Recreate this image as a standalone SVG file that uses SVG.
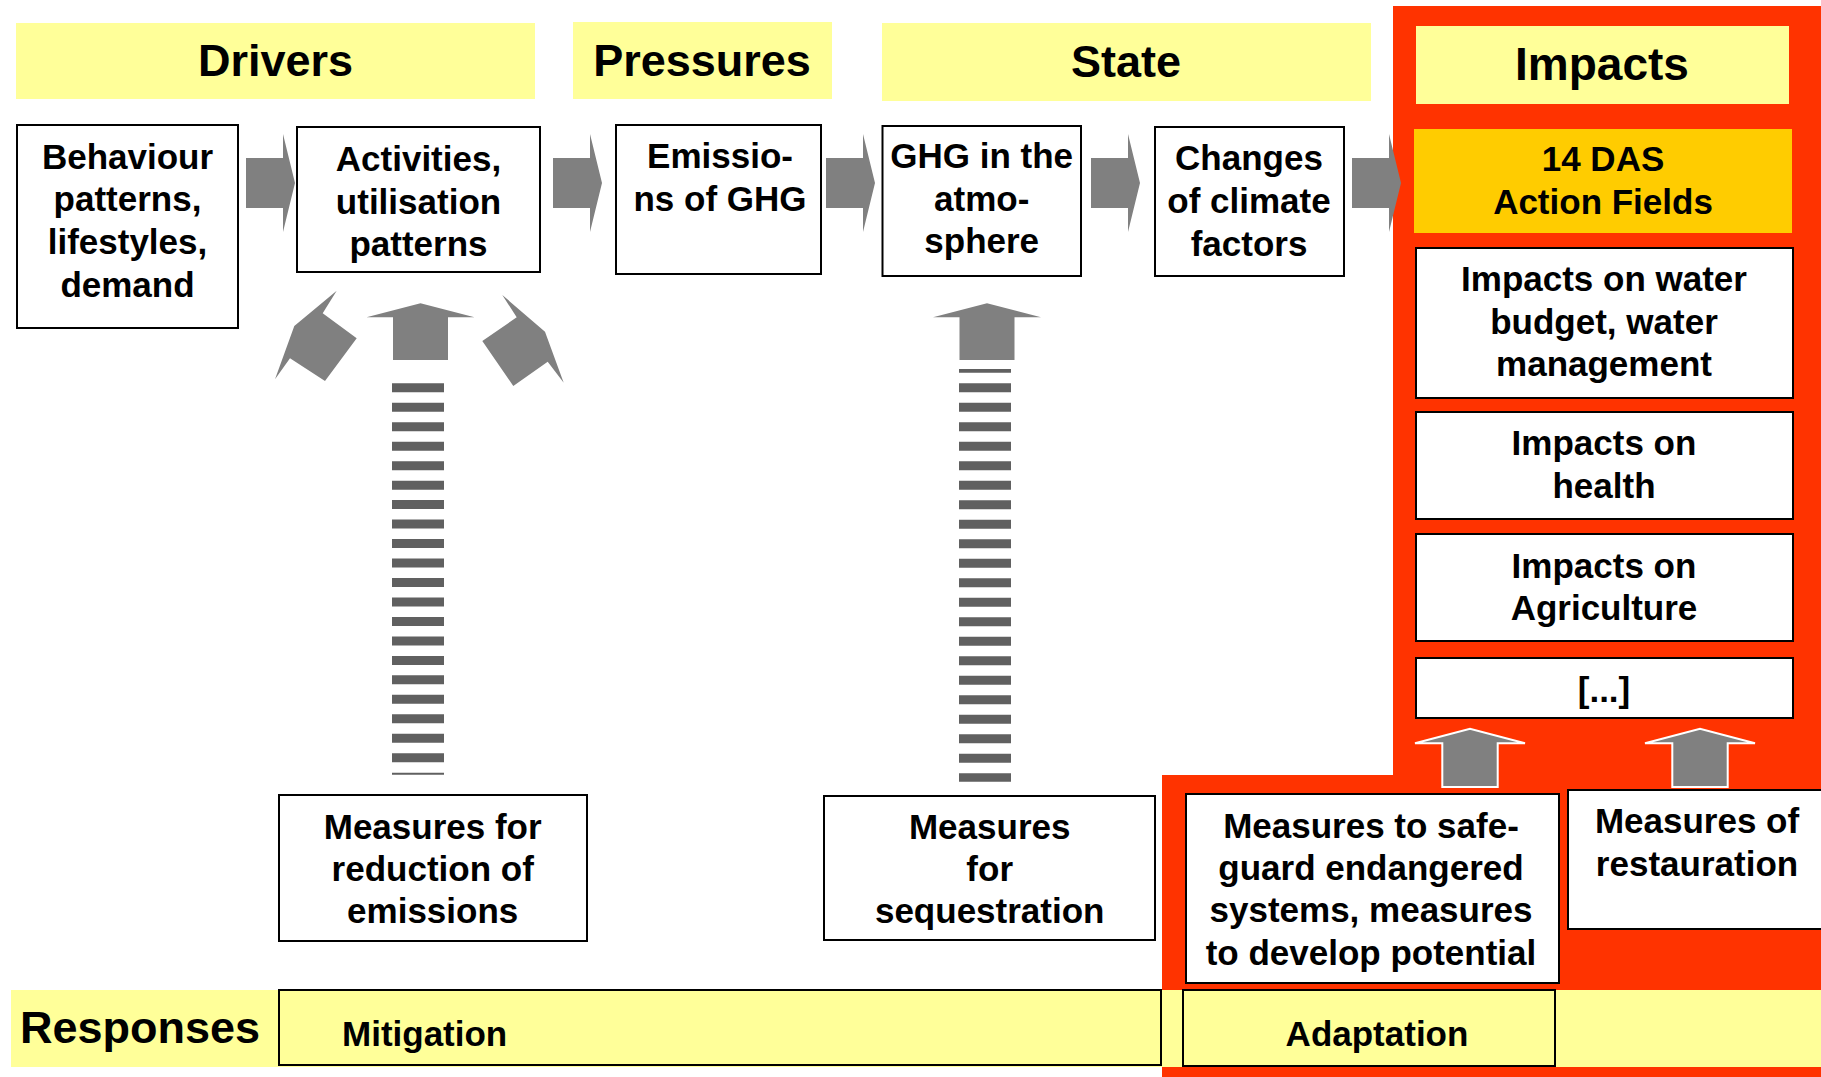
<svg xmlns="http://www.w3.org/2000/svg" width="1821" height="1077" viewBox="0 0 1821 1077">
<style>
text{font-family:"Liberation Sans",Arial,sans-serif;font-weight:bold;fill:#000;font-size:35px;text-anchor:middle}
.h{font-size:45px}
.box{fill:#fff;stroke:#000;stroke-width:2}
.band{fill:#FFFF99}
.ybox{fill:#FFFF99;stroke:#000;stroke-width:2}
.arr{fill:#808080}
.arrw{fill:#808080;stroke:#fff;stroke-width:2}
.dash{stroke:#606060;fill:none}
</style>
<defs>
<path id="rarrow" d="M0,158 H37 V134 L49,183 L37,232 V208 H0 Z"/>
<path id="uarrow" d="M-27.5,360 V317.3 H-54 L0,303.3 L54,317.3 H27.5 V360 Z"/>
<path id="uarrow2" d="M-27.7,787 V743.3 H-55 L0,728.7 L55,743.3 H27.7 V787 Z"/>
</defs>
<rect width="1821" height="1077" fill="#fff"/>
<g id="impacts-region">
<polygon points="1393,6 1821,6 1821,1077 1162,1077 1162,775 1393,775" fill="#FF3300"/>
</g>
<g id="headers">
<g id="drivers"><rect class="band" x="16" y="23" width="519" height="76"/><text class="h" x="275.5" y="76">Drivers</text></g>
<g id="pressures"><rect class="band" x="573" y="22" width="259" height="77"/><text class="h" x="702" y="76">Pressures</text></g>
<g id="state"><rect class="band" x="882" y="23" width="489" height="78"/><text class="h" x="1126" y="77">State</text></g>
<g id="impacts"><rect class="band" x="1416" y="26" width="373" height="78"/><text class="h" x="1602" y="80" style="font-size:46px">Impacts</text></g>
<g id="responses"><rect class="band" x="11" y="990" width="1810" height="77"/><text class="h" x="20" y="1043" style="text-anchor:start">Responses</text></g>
</g>
<g id="behaviour"><rect class="box" x="17" y="125" width="221" height="203"/>
<text x="127.5" y="168.5">Behaviour</text><text x="127.5" y="211">patterns,</text><text x="127.5" y="253.5">lifestyles,</text><text x="127.5" y="296.5">demand</text></g>
<g id="activities"><rect class="box" x="297" y="127" width="243" height="145"/>
<text x="418.5" y="170.5">Activities,</text><text x="418.5" y="214">utilisation</text><text x="418.5" y="255.5">patterns</text></g>
<g id="emissions"><rect class="box" x="616" y="125" width="205" height="149"/>
<text x="720" y="168">Emissio-</text><text x="720" y="210.5">ns of GHG</text></g>
<g id="ghg"><rect class="box" x="882.5" y="126" width="198.5" height="150"/>
<text x="981.7" y="168">GHG in the</text><text x="981.7" y="210.5">atmo-</text><text x="981.7" y="253">sphere</text></g>
<g id="changes"><rect class="box" x="1155" y="127" width="189" height="149"/>
<text x="1249" y="169.5">Changes</text><text x="1249" y="212.5">of climate</text><text x="1249" y="255.5">factors</text></g>
<g id="das"><rect x="1414" y="129" width="378" height="104" fill="#FFCC00"/>
<text x="1603" y="171">14 DAS</text><text x="1603" y="213.5">Action Fields</text></g>
<g id="water"><rect class="box" x="1416" y="248" width="377" height="150"/>
<text x="1604" y="291">Impacts on water</text><text x="1604" y="333.5">budget, water</text><text x="1604" y="376">management</text></g>
<g id="health"><rect class="box" x="1416" y="412" width="377" height="107"/>
<text x="1604" y="455">Impacts on</text><text x="1604" y="497.5">health</text></g>
<g id="agriculture"><rect class="box" x="1416" y="534" width="377" height="107"/>
<text x="1604" y="577.5">Impacts on</text><text x="1604" y="620">Agriculture</text></g>
<g id="more"><rect class="box" x="1416" y="658" width="377" height="60"/>
<text x="1604" y="701.5">[...]</text></g>
<g id="reduction"><rect class="box" x="279" y="795" width="308" height="146"/>
<text x="432.7" y="838.5">Measures for</text><text x="432.7" y="880.5">reduction of</text><text x="432.7" y="922.5">emissions</text></g>
<g id="sequestration"><rect class="box" x="824" y="796" width="331" height="144"/>
<text x="989.7" y="838.5">Measures</text><text x="989.7" y="880.5">for</text><text x="989.7" y="922.5">sequestration</text></g>
<g id="safeguard"><rect class="box" x="1186" y="794" width="373" height="189"/>
<text x="1371" y="837.5">Measures to safe-</text><text x="1371" y="879.5">guard endangered</text><text x="1371" y="922">systems, measures</text><text x="1371" y="964.5">to develop potential</text></g>
<g id="restauration"><rect class="box" x="1568" y="790" width="262" height="139"/>
<text x="1697" y="833">Measures of</text><text x="1697" y="875.5">restauration</text></g>
<g id="mitigation"><rect class="ybox" x="279" y="990" width="882" height="75"/>
<text x="342" y="1045.5" style="text-anchor:start">Mitigation</text></g>
<g id="adaptation"><rect class="ybox" x="1183" y="990" width="372" height="76"/>
<text x="1377" y="1045.5">Adaptation</text></g>
<g id="connectors">
<use href="#rarrow" x="246" class="arr"/>
<use href="#rarrow" x="553" class="arr"/>
<use href="#rarrow" x="826" class="arr"/>
<use href="#rarrow" x="1091" class="arr"/>
<use href="#rarrow" x="1352" class="arr"/>
<use href="#uarrow" x="420.5" class="arr"/>
<use href="#uarrow" x="987" class="arr"/>
<polygon class="arr" points="336.7,290.7 322.7,313.3 356.7,338.3 325,381 290,358.3 275,379.3 294.3,326"/>
<polygon class="arr" points="502.3,295 516.7,317.3 482.3,341 513.3,386 547.7,361.7 563.7,382.7 545,331.7"/>
<line class="dash" x1="418" y1="383.3" x2="418" y2="774.7" stroke-width="52" stroke-dasharray="9 10.47"/>
<line class="dash" x1="985" y1="369" x2="985" y2="781.7" stroke-width="52" stroke-dasharray="9 10.5" stroke-dashoffset="5.2"/>
<use href="#uarrow2" x="1470" class="arrw"/>
<use href="#uarrow2" x="1700" class="arrw"/>
</g>
</svg>
